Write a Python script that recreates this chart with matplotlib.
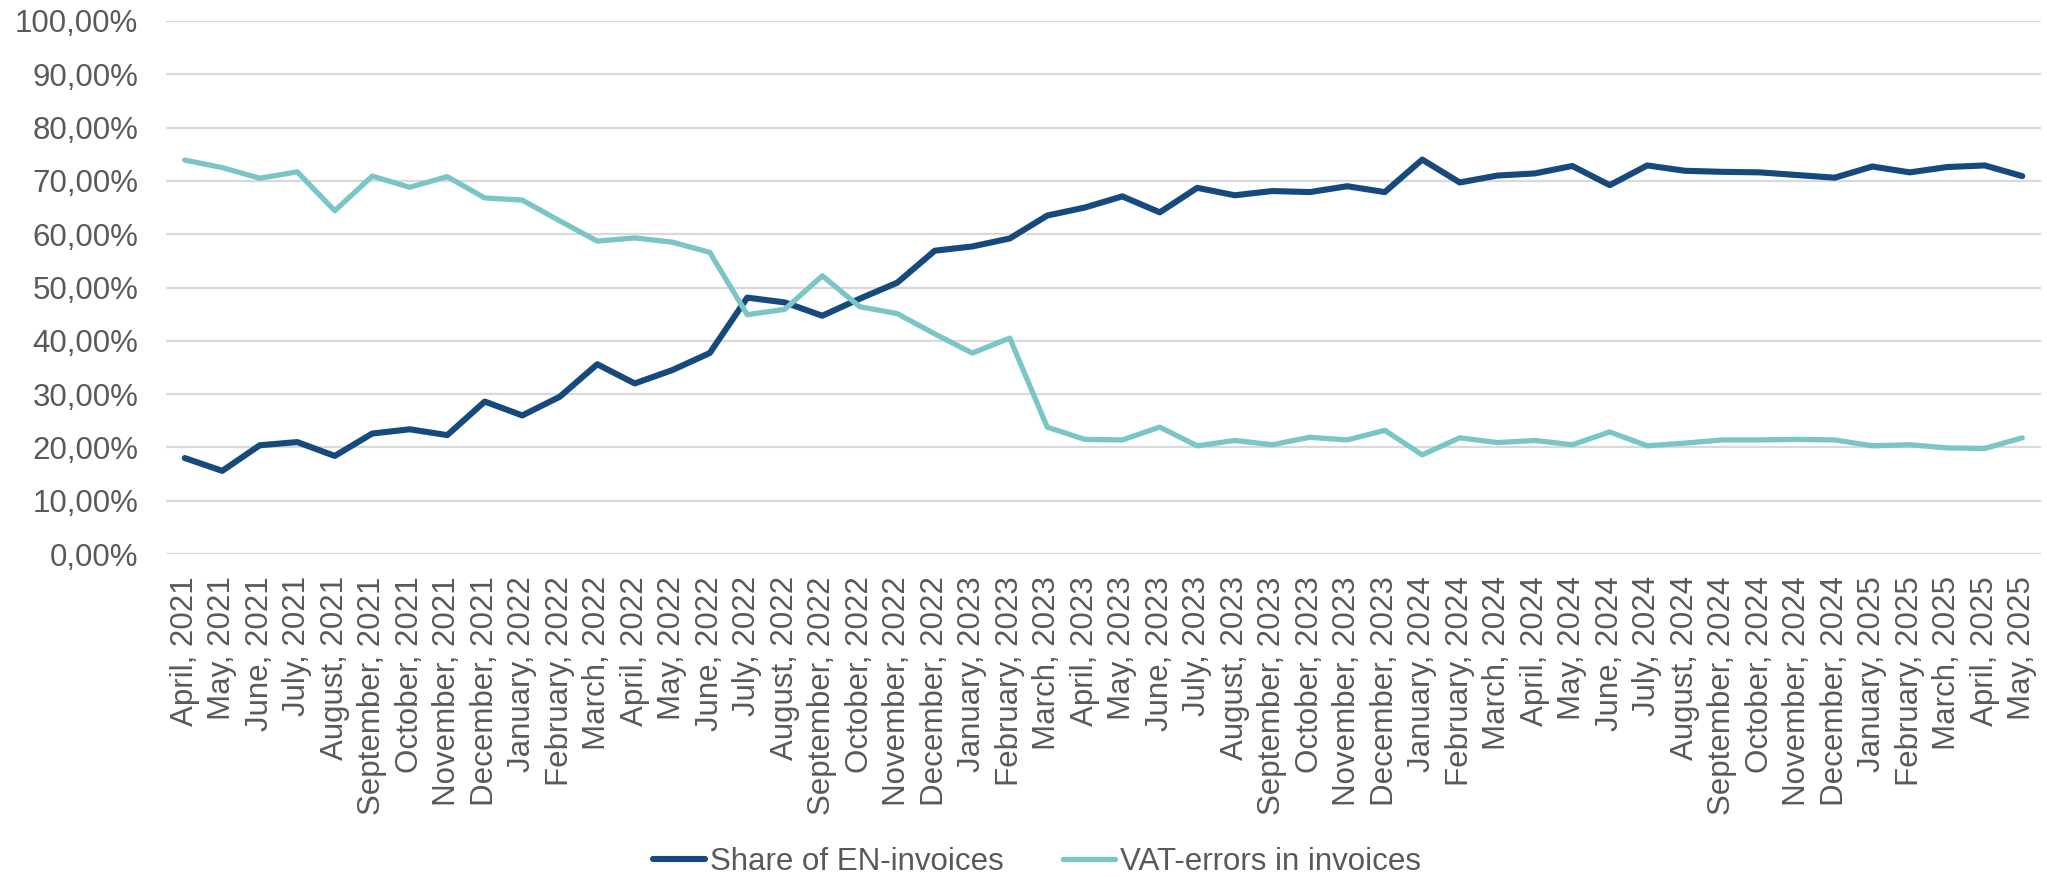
import matplotlib
matplotlib.use("Agg")
import matplotlib.pyplot as plt

months = ["April", "May", "June", "July", "August", "September", "October", "November", "December",
          "January", "February", "March", "April", "May", "June", "July", "August", "September",
          "October", "November", "December", "January", "February", "March", "April", "May", "June",
          "July", "August", "September", "October", "November", "December", "January", "February",
          "March", "April", "May", "June", "July", "August", "September", "October", "November",
          "December", "January", "February", "March", "April", "May"]
years = [2021]*9 + [2022]*12 + [2023]*12 + [2024]*12 + [2025]*5
labels = [f"{m}, {y}" for m, y in zip(months, years)]

share_en = [18.0, 15.6, 20.4, 21.0, 18.4, 22.6, 23.4, 22.3, 28.6, 26.0, 29.5, 35.6, 32.0, 34.5,
            37.7, 48.1, 47.2, 44.7, 47.9, 50.9, 56.9, 57.7, 59.2, 63.5, 65.0, 67.1, 64.1, 68.7,
            67.3, 68.1, 67.9, 69.0, 67.9, 74.0, 69.7, 71.0, 71.4, 72.8, 69.2, 72.9, 71.9, 71.7,
            71.6, 71.1, 70.6, 72.7, 71.6, 72.6, 72.9, 70.9]
vat_err = [73.9, 72.5, 70.5, 71.7, 64.4, 70.9, 68.8, 70.8, 66.8, 66.4, 62.5, 58.7, 59.3, 58.5,
           56.6, 44.9, 45.9, 52.2, 46.4, 45.1, 41.3, 37.7, 40.5, 23.8, 21.5, 21.4, 23.8, 20.3,
           21.3, 20.5, 21.9, 21.4, 23.2, 18.6, 21.8, 20.9, 21.3, 20.5, 22.9, 20.3, 20.8, 21.4,
           21.4, 21.5, 21.4, 20.3, 20.5, 19.9, 19.8, 21.8]
series_names = ["Share of EN-invoices", "VAT-errors in invoices"]
yticks = list(range(0, 101, 10))

font = "Liberation Sans"
grey = "#595959"

fig = plt.figure(figsize=(20.47, 8.77), dpi=100)
ax = fig.add_axes([166/2047, 1 - 554/877, (2041-166)/2047, (554-21)/877])

x = list(range(len(labels)))
ax.plot(x, share_en, color="#174A7C", lw=4.4, solid_joinstyle="round", solid_capstyle="round",
        label=series_names[0], zorder=3)
ax.plot(x, vat_err, color="#7AC5C5", lw=3.8, solid_joinstyle="round", solid_capstyle="round",
        label=series_names[1], zorder=3)

ax.set_xlim(-0.5, len(labels) - 0.5)
ax.set_ylim(0, 100)
ax.set_yticks(yticks)
ax.set_yticklabels([f"{v},00%" for v in yticks], fontfamily=font, fontsize=22.5, color=grey)
ax.set_xticks(x)
ax.set_xticklabels(labels, rotation=90, fontfamily=font, fontsize=22.5, color=grey)
ax.tick_params(axis="both", length=0)
ax.tick_params(axis="x", pad=16)
ax.tick_params(axis="y", pad=20)
ax.grid(axis="y", color="#D9D9D9", lw=1.6)
ax.set_axisbelow(True)
for s in ax.spines.values():
    s.set_visible(False)

leg = fig.legend(loc="center", bbox_to_anchor=(1037/2047, 1 - 862/877), ncol=2, frameon=False,
                 prop={"family": font, "size": 22.5}, handlelength=1.66, columnspacing=1.9,
                 handletextpad=0.16, borderpad=0, borderaxespad=0)
for t in leg.get_texts():
    t.set_color(grey)

fig.savefig("out.png", dpi=100)
